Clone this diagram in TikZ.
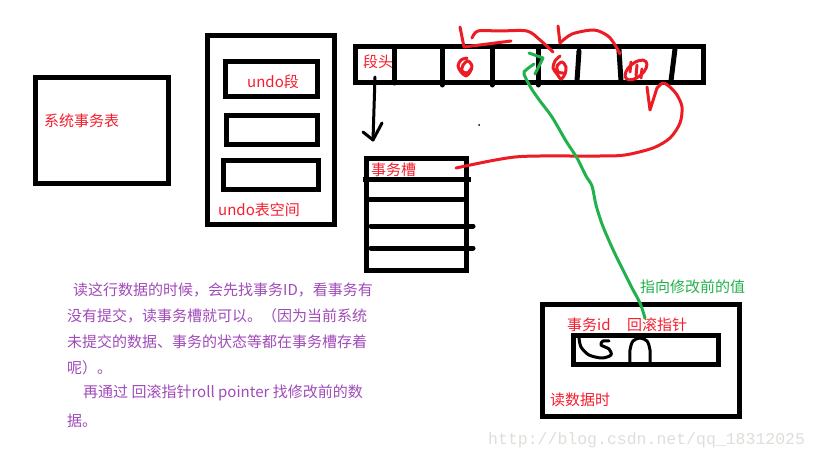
\documentclass[tikz,border=0pt]{standalone}
\usepackage{fontspec}
\setmainfont{Noto Sans CJK SC}
\newfontfamily\wmfont{Liberation Mono}
\definecolor{pred}{RGB}{237,28,36}
\definecolor{tred}{RGB}{245,30,45}
\definecolor{pgreen}{RGB}{34,177,76}
\definecolor{ppurple}{RGB}{160,75,185}
\definecolor{wmgray}{RGB}{222,222,218}
\begin{document}
\begin{tikzpicture}[x=1pt,y=-1pt,
  box/.style={draw=black, line width=5pt, line join=miter, inner sep=0pt},
  bar/.style={draw=black, line width=5pt, line cap=round},
  hand/.style={line width=3pt, line cap=round, line join=round},
  redline/.style={hand, draw=pred},
  greenline/.style={hand, draw=pgreen},
  blackline/.style={hand, draw=black},
  lbl/.style={inner sep=0pt, anchor=west, text=tred, font=\fontsize{15pt}{18pt}\selectfont},
  glbl/.style={lbl, text=pgreen},
  para/.style={inner sep=0pt, anchor=west, text=ppurple, font=\fontsize{15pt}{18pt}\selectfont},
  wm/.style={inner sep=0pt, anchor=west, text=wmgray, font=\wmfont\fontsize{16.5pt}{18pt}\selectfont}]
\fill[white] (0,0) rectangle (819,460);
\useasboundingbox (0,0) rectangle (819,460);

% system transaction table
\node[box, minimum width=133pt, minimum height=106pt] (systab) at (102,130.5) {};
\node[lbl] (systablbl) at (44,121) {系统事务表};

% undo tablespace
\node[box, minimum width=127pt, minimum height=189pt] (undospace) at (271,130) {};
\node[box, minimum width=92pt, minimum height=35pt] (seg1) at (271.5,79) {};
\node[box, minimum width=91pt, minimum height=29pt] (seg2) at (272,130) {};
\node[box, minimum width=95pt, minimum height=29pt] (seg3) at (271,175) {};
\node[lbl] (seg1lbl) at (247,82) {undo段};
\node[lbl] (undospacelbl) at (218,210) {undo表空间};

% segment bar
\node[box, minimum width=348pt, minimum height=36pt] (segbar) at (529.5,64.5) {};
\draw[bar] (394,47) -- (394,83);
\draw[bar] (442,47) -- (442,85);
\draw[bar] (492,47) -- (492,85);
\draw[bar] (538,47) -- (538,85);
\draw[bar] (579,51) -- (577,81);
\draw[bar] (619,50) -- (621,81);
\draw[bar] (675,49) -- (671,81);
\node[lbl] (hdrlbl) at (363,62) {段头};

% arrow header -> slot
\coordinate (hdr) at (375,77);
\coordinate (hdrend) at (373,140);
\draw[blackline] (hdr) -- (hdrend);
\draw[blackline] (363,132) -- (hdrend) -- (382,123);

% transaction slot
\node[box, minimum width=100pt, minimum height=112pt] (slot) at (416,214) {};
\draw[bar, line cap=butt] (363,179) -- (471,179);
\draw[bar] (367,199) -- (463,199);
\draw[bar] (371,226) -- (473,226);
\draw[bar] (371,248) -- (473,248);
\node[lbl] (slotlbl) at (371,170) {事务槽};

\fill (479,125) circle (1);

% red squiggles in cells
\draw[redline] plot[smooth] coordinates {(467,58) (461,60) (458,66) (461,72) (466,76) (470,72) (472,66) (468,61) (463,65) (462,71) (467,73) (471,69)};
\draw[redline] plot[smooth] coordinates {(560,56) (555,61) (553,68) (557,74) (561,79) (565,74) (566,67) (562,62) (557,66) (558,72) (563,73)};
\draw[redline, rotate around={40:(636,70)}] (636,70) ellipse (13 and 7);
\draw[redline] (631,62) -- (630,72);
\draw[redline] (637,65) -- (636,76);
\draw[redline] (642,69) -- (641,78);

% red arrows on top
\coordinate (a1tip) at (464,47);
\draw[redline] (460,27) -- (a1tip) -- (511,41);
\draw[redline] plot[smooth] coordinates {(472,38) (478,31) (500,31) (527,31) (540,40) (553,52)};
\coordinate (a2tip) at (560,43);
\draw[redline] (558,26) -- (a2tip);
\draw[redline] plot[smooth] coordinates {(a2tip) (572,34) (594,30) (608,36) (615,45) (620,54)};

% red curve from slot to bar
\coordinate (slotend) at (456,168);
\coordinate (bartip) at (657,88);
\draw[redline] plot[smooth] coordinates {(slotend) (490,161) (515,157) (540,156) (600,156) (625,155) (653,148) (670,138) (680,123) (682,107) (677,95) (670,87) (663,83) (bartip)};
\draw[redline] (647,87) -- (650,110) -- (bartip);

% read box
\node[box, minimum width=197pt, minimum height=112pt] (readbox) at (641,360.5) {};
\node[box, minimum width=145pt, minimum height=29pt] (rowbar) at (646,350) {};
\node[lbl] (tidlbl) at (567,325) {事务id};
\node[lbl] (rollbl) at (627,325) {回滚指针};
\node[lbl] (readlbl) at (550,400) {读数据时};
\draw[blackline] plot[smooth] coordinates {(579,338) (581,347) (589,355) (602,358) (611,355) (609,349) (601,345) (603,341) (609,341)};
\draw[blackline] plot[smooth] coordinates {(630,365) (630,350) (633,341) (640,338) (647,341) (650,350) (650,365)};

% green pointer
\node[glbl] (greenlbl) at (640,287) {指向修改前的值};
\coordinate (rolltop) at (645,318);
\coordinate (gtip) at (543,58);
\draw[greenline] plot[smooth] coordinates {(rolltop) (640,303) (632,288) (624,272) (617,258) (610,243) (602,224) (596,205) (592,186) (586,176) (577,158) (566,141) (552,117) (540,101) (531,88) (524,74) (526,70) (534,64)};
\draw[greenline] (529,53) -- (gtip) -- (535,74);

% paragraph
\node[para] (p1) at (73,290) {读这行数据的时候，会先找事务ID，看事务有};
\node[para] (p2) at (67,316) {没有提交，读事务槽就可以。（因为当前系统};
\node[para] (p3) at (67,342) {未提交的数据、事务的状态等都在事务槽存着};
\node[para] (p4) at (67,368) {呢）。};
\node[para] (p5) at (83,393) {再通过 回滚指针roll pointer 找修改前的数};
\node[para] (p6) at (67,421) {据。};

% watermark
\node[wm] (wmark) at (488,440) {http://blog.csdn.net/qq\_18312025};
\end{tikzpicture}
\end{document}
